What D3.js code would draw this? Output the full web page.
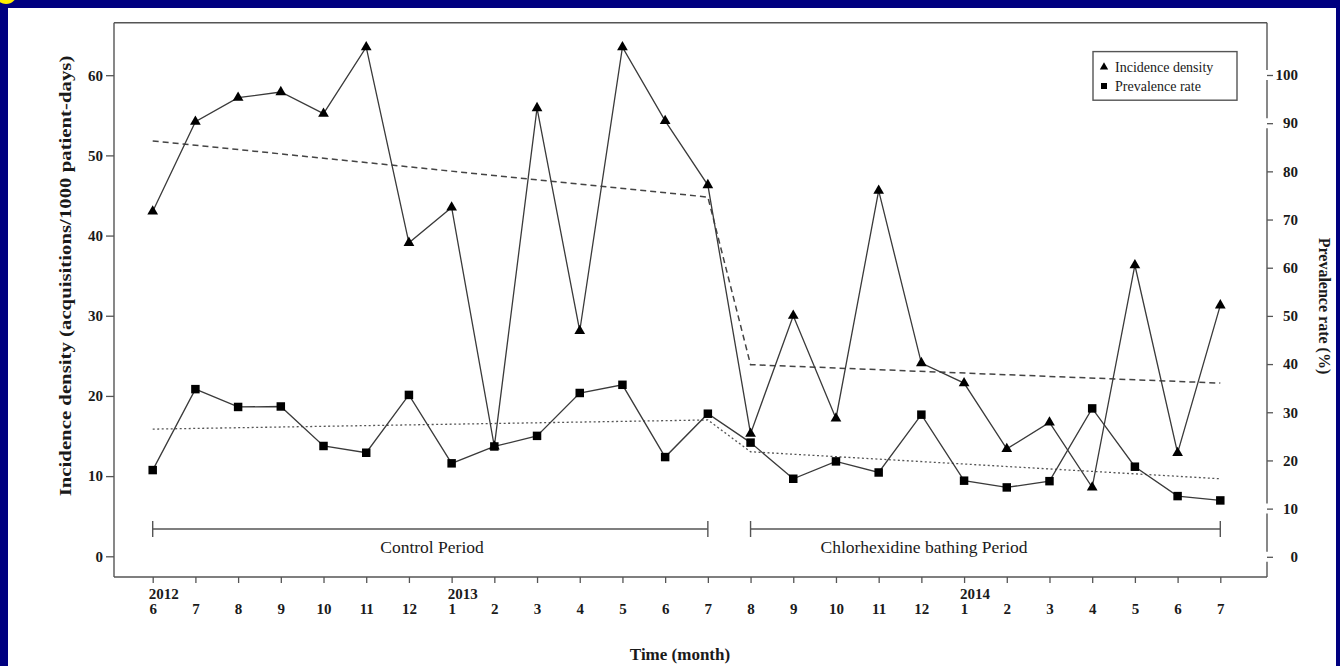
<!DOCTYPE html>
<html><head><meta charset="utf-8">
<script src="https://cdn.jsdelivr.net/npm/d3@7"></script>
<style>
html,body{margin:0;padding:0;background:#000080;}
svg{display:block;}
text{font-family:"Liberation Serif","Times New Roman",serif;fill:#1a1a1a;}
</style></head>
<body>
<svg id="chart" width="1340" height="666"></svg>
<script>
// ---------- data ----------
const categories = ["2012-6","2012-7","2012-8","2012-9","2012-10","2012-11","2012-12",
  "2013-1","2013-2","2013-3","2013-4","2013-5","2013-6","2013-7","2013-8","2013-9","2013-10","2013-11","2013-12",
  "2014-1","2014-2","2014-3","2014-4","2014-5","2014-6","2014-7"];
const monthLabels = ["6","7","8","9","10","11","12","1","2","3","4","5","6","7","8","9","10","11","12","1","2","3","4","5","6","7"];
const yearLabels = ["2012","2013","2014"];
const yearAt = ["2012-6","2013-1","2014-1"];
const incidence = [43.0,54.2,57.2,57.9,55.2,63.5,39.1,43.5,13.7,55.9,28.1,63.5,54.3,46.3,15.3,30.0,17.2,45.6,24.1,21.6,13.4,16.7,8.6,36.3,12.9,31.3];
const prevalence = [18.0,34.8,31.1,31.2,23.0,21.6,33.6,19.4,22.9,25.1,34.0,35.7,20.7,29.7,23.7,16.2,19.8,17.5,29.5,15.8,14.4,15.7,30.8,18.7,12.6,11.7];
const trendAt = ["2012-6","2013-7","2013-8","2014-7"];
const incidenceTrend = [51.8,44.8,23.9,21.6];
const prevalenceTrend = [26.5,28.4,21.8,16.2];
const leftTicks = [0,10,20,30,40,50,60];
const rightTicks = [0,10,20,30,40,50,60,70,80,90,100];
const periods = ["Control Period","Chlorhexidine bathing Period"];
const periodStart = ["2012-6","2013-8"];
const periodEnd = ["2013-7","2014-7"];
const legendLabels = ["Incidence density","Prevalence rate"];

// ---------- layout ----------
const svg = d3.select("#chart");
const L = 114, R = 1267, T = 22.7, B = 577;
const ink = "#555";

svg.append("rect").attr("x",0).attr("y",0).attr("width",1340).attr("height",666).attr("fill","#000080");
svg.append("rect").attr("x",8).attr("y",8).attr("width",1328).attr("height",658).attr("fill","#ffffff");
svg.append("circle").attr("cx",6).attr("cy",-7).attr("r",11).attr("fill","#ffee00");

const x = d3.scalePoint().domain(categories).range([152.7,1220.3]);
const yL = d3.scaleLinear().domain([0,60]).range([556.3,75.2]);
const yR = d3.scaleLinear().domain([0,100]).range([556.8,75]);

// frame
const frame = svg.append("g").attr("stroke",ink).attr("stroke-width",1.4).attr("fill","none");
frame.append("line").attr("x1",L).attr("x2",L).attr("y1",T).attr("y2",B);
frame.append("line").attr("x1",L).attr("x2",R).attr("y1",T).attr("y2",T);
frame.append("line").attr("x1",L).attr("x2",R).attr("y1",B).attr("y2",B);
// right axis line with small gaps around some ticks (as in the reference)
const gapTicks = [100,90,10,0];
let segs = [], yPrev = T;
gapTicks.map(v=>yR(v)).sort((a,b)=>a-b).forEach(g=>{ segs.push([yPrev,g-5]); yPrev=g+5; });
segs.push([yPrev,B]);
segs.forEach(s=>frame.append("line").attr("x1",R).attr("x2",R).attr("y1",s[0]).attr("y2",s[1]));

// left axis
const gL = svg.append("g").attr("transform",`translate(${L},0)`)
  .call(d3.axisLeft(yL).tickValues(leftTicks).tickSize(8).tickPadding(3).tickFormat(d3.format("d")));
gL.select(".domain").remove();
gL.selectAll("line").attr("stroke",ink).attr("stroke-width",1.3);
gL.selectAll("text").attr("font-size",15).attr("font-weight","bold").attr("font-family","Liberation Serif").attr("fill","#1a1a1a");

// right axis
const gR = svg.append("g").attr("transform",`translate(${R},0)`)
  .call(d3.axisRight(yR).tickValues(rightTicks).tickSize(6).tickFormat(d3.format("d")));
gR.select(".domain").remove();
gR.selectAll("line").attr("stroke",ink).attr("stroke-width",1.3);
gR.selectAll("text").attr("x",31).attr("text-anchor","end")
  .attr("font-size",15).attr("font-weight","bold").attr("font-family","Liberation Serif").attr("fill","#1a1a1a");

// bottom axis
const gB = svg.append("g").attr("transform",`translate(0,${B})`)
  .call(d3.axisBottom(x).tickSize(6).tickFormat((d,i)=>monthLabels[i]));
gB.select(".domain").remove();
gB.selectAll("line").attr("stroke",ink).attr("stroke-width",1.3);
gB.selectAll("text").attr("y",37).attr("dy",0)
  .attr("font-size",15).attr("font-weight","bold").attr("font-family","Liberation Serif").attr("fill","#1a1a1a");
svg.append("g").selectAll("text").data(yearLabels).join("text")
  .attr("x",(d,i)=>x(yearAt[i])-4).attr("y",B+22)
  .attr("font-size",15).attr("font-weight","bold").text(d=>d);

// titles
svg.append("text").attr("transform","translate(71,276) rotate(-90) scale(1.3,1)").attr("text-anchor","middle")
  .attr("font-size",16).attr("font-weight","bold").text("Incidence density (acquisitions/1000 patient-days)");
svg.append("text").attr("transform","translate(1319,306) rotate(90)").attr("text-anchor","middle")
  .attr("font-size",16).attr("font-weight","bold").text("Prevalence rate (%)");
svg.append("text").attr("x",680).attr("y",660).attr("text-anchor","middle")
  .attr("font-size",17).attr("font-weight","bold").text("Time (month)");

// period brackets
const pg = svg.append("g");
periods.forEach((p,i)=>{
  const x0 = x(periodStart[i]), x1 = x(periodEnd[i]), yb = 529;
  pg.append("line").attr("x1",x0).attr("x2",x1).attr("y1",yb).attr("y2",yb).attr("stroke",ink).attr("stroke-width",1.4);
  pg.append("line").attr("x1",x0).attr("x2",x0).attr("y1",yb-8).attr("y2",yb+8).attr("stroke",ink).attr("stroke-width",1.4);
  pg.append("line").attr("x1",x1).attr("x2",x1).attr("y1",yb-8).attr("y2",yb+8).attr("stroke",ink).attr("stroke-width",1.4);
});
pg.append("text").attr("x",432).attr("y",553).attr("text-anchor","middle").attr("font-size",17.5).text(periods[0]);
pg.append("text").attr("x",924).attr("y",553).attr("text-anchor","middle").attr("font-size",17.5).text(periods[1]);

// trend lines (two segments each + connecting drop)
const incTrendPts = trendAt.map((c,i)=>[x(c),yL(incidenceTrend[i])]);
const prevTrendPts = trendAt.map((c,i)=>[x(c),yR(prevalenceTrend[i])]);
svg.append("path").attr("d",d3.line()(incTrendPts)).attr("fill","none")
  .attr("stroke","#444").attr("stroke-width",1.5).attr("stroke-dasharray","6,4");
svg.append("path").attr("d",d3.line()(prevTrendPts)).attr("fill","none")
  .attr("stroke","#555").attr("stroke-width",1.3).attr("stroke-dasharray","2,2.5");

// data lines
const lineInc = d3.line().x((d,i)=>x(categories[i])).y(d=>yL(d));
const linePrev = d3.line().x((d,i)=>x(categories[i])).y(d=>yR(d));
svg.append("path").attr("d",lineInc(incidence)).attr("fill","none").attr("stroke","#3a3a3a").attr("stroke-width",1.3);
svg.append("path").attr("d",linePrev(prevalence)).attr("fill","none").attr("stroke","#3a3a3a").attr("stroke-width",1.3);

// markers
const tri = d3.symbol().type(d3.symbolTriangle).size(50);
const sq = d3.symbol().type(d3.symbolSquare).size(72);
svg.append("g").selectAll("path").data(incidence).join("path")
  .attr("transform",(d,i)=>`translate(${x(categories[i])},${yL(d)})`).attr("d",tri).attr("fill","#000");
svg.append("g").selectAll("path").data(prevalence).join("path")
  .attr("transform",(d,i)=>`translate(${x(categories[i])},${yR(d)})`).attr("d",sq).attr("fill","#000");

// legend
const lg = svg.append("g");
lg.append("rect").attr("x",1093).attr("y",51.6).attr("width",144).attr("height",48.6)
  .attr("fill","#fff").attr("stroke",ink).attr("stroke-width",1.4);
lg.append("path").attr("transform","translate(1104,67)").attr("d",d3.symbol().type(d3.symbolTriangle).size(30)).attr("fill","#000");
lg.append("path").attr("transform","translate(1104,86)").attr("d",d3.symbol().type(d3.symbolSquare).size(36)).attr("fill","#000");
lg.append("text").attr("x",1115).attr("y",72).attr("font-size",14).text(legendLabels[0]);
lg.append("text").attr("x",1115).attr("y",91).attr("font-size",14).text(legendLabels[1]);
</script>
</body></html>
